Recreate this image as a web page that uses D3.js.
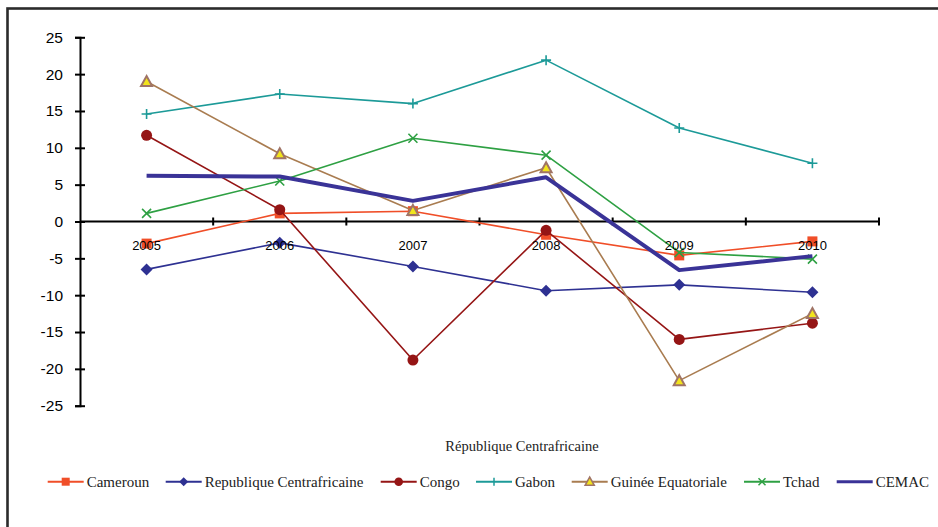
<!DOCTYPE html>
<html>
<head>
<meta charset="utf-8">
<script src="https://cdn.jsdelivr.net/npm/d3@7"></script>
<style>
  html, body { margin: 0; padding: 0; background: #fff; }
  svg { display: block; }
</style>
</head>
<body>
<svg id="chart" width="938" height="527"></svg>
<script>
// Years on the category axis
const years = ["2005", "2006", "2007", "2008", "2009", "2010"];

// Y axis tick values
const yTicks = [-25, -20, -15, -10, -5, 0, 5, 10, 15, 20, 25];

// Growth values per country, one per year
const cameroun = [-3.0, 1.1, 1.4, -1.8, -4.6, -2.7];
const rca = [-6.5, -2.9, -6.1, -9.4, -8.6, -9.6];
const congo = [11.7, 1.6, -18.8, -1.2, -16.0, -13.8];
const gabon = [14.6, 17.3, 16.0, 21.9, 12.7, 7.9];
const guinee = [19.0, 9.2, 1.5, 7.3, -21.6, -12.5];
const tchad = [1.1, 5.5, 11.3, 9.0, -4.2, -5.1];
const cemac = [6.2, 6.1, 2.8, 6.0, -6.6, -4.7];

const seriesNames = ["Cameroun", "Republique Centrafricaine", "Congo", "Gabon", "Guinée Equatoriale", "Tchad", "CEMAC"];
const seriesValues = [cameroun, rca, congo, gabon, guinee, tchad, cemac];

const axisTitle = "République Centrafricaine";

// Styling per series
const styles = [
  { color: "#f04e28", width: 1.6, marker: "square" },
  { color: "#2e3192", width: 1.6, marker: "diamond" },
  { color: "#951515", width: 1.6, marker: "circle" },
  { color: "#1c9a98", width: 1.6, marker: "plus" },
  { color: "#a97c50", width: 1.6, marker: "triangle" },
  { color: "#2ea043", width: 1.6, marker: "cross" },
  { color: "#3a3397", width: 4, marker: "none" }
];

const svg = d3.select("#chart");

// Outer frame
svg.append("rect")
  .attr("x", 7.5).attr("y", 8.5)
  .attr("width", 940).attr("height", 530)
  .attr("fill", "none")
  .attr("stroke", "#2b2b2b")
  .attr("stroke-width", 2.6);

const x = d3.scaleBand().domain(years).range([80, 879]).padding(0);
const y = d3.scaleLinear().domain([-25, 25]).range([405.7, 37.3]);

// Y axis (plain hyphen for negative labels)
const yAxis = svg.append("g")
  .attr("transform", "translate(80,0)")
  .call(d3.axisLeft(y).tickValues(yTicks).tickSize(5).tickPadding(12).tickFormat(d => String(d)));
yAxis.select(".domain").attr("stroke", "#000").attr("stroke-width", 2);
yAxis.selectAll(".tick line").attr("x1", -5).attr("x2", 5).attr("stroke", "#000").attr("stroke-width", 2);
yAxis.selectAll(".tick text")
  .attr("font-family", "'Liberation Sans', Arial, sans-serif")
  .attr("font-size", 15.5)
  .attr("fill", "#000");

// X axis line at zero with ticks on the band edges
const y0 = y(0);
svg.append("line")
  .attr("x1", x.range()[0]).attr("x2", x.range()[1])
  .attr("y1", y0).attr("y2", y0)
  .attr("stroke", "#000").attr("stroke-width", 2);
const edges = years.map(d => x(d)).concat([x.range()[1]]).slice(1);
svg.selectAll(".xtick").data(edges).enter().append("line")
  .attr("class", "xtick")
  .attr("x1", d => d).attr("x2", d => d)
  .attr("y1", y0 - 4).attr("y2", y0 + 4)
  .attr("stroke", "#000").attr("stroke-width", 2);

// Series lines and markers
const cx = d => x(d) + x.bandwidth() / 2;
const line = d3.line().x(d => cx(d.year)).y(d => y(d.value));

function drawMarker(g, type, color, px, py) {
  if (type === "square") {
    g.append("rect").attr("x", px - 5).attr("y", py - 5).attr("width", 10).attr("height", 10)
      .attr("fill", color);
  } else if (type === "diamond") {
    g.append("path").attr("d", `M${px},${py - 6}L${px + 6},${py}L${px},${py + 6}L${px - 6},${py}Z`)
      .attr("fill", color);
  } else if (type === "circle") {
    g.append("circle").attr("cx", px).attr("cy", py).attr("r", 5.5).attr("fill", color);
  } else if (type === "plus") {
    g.append("path").attr("d", `M${px - 5},${py}H${px + 5}M${px},${py - 5}V${py + 5}`)
      .attr("stroke", color).attr("stroke-width", 1.6).attr("fill", "none");
  } else if (type === "cross") {
    g.append("path").attr("d", `M${px - 4.5},${py - 4.5}L${px + 4.5},${py + 4.5}M${px - 4.5},${py + 4.5}L${px + 4.5},${py - 4.5}`)
      .attr("stroke", color).attr("stroke-width", 1.6).attr("fill", "none");
  } else if (type === "triangle") {
    g.append("path").attr("d", `M${px},${py - 5.5}L${px + 5.5},${py + 4.5}L${px - 5.5},${py + 4.5}Z`)
      .attr("fill", "#f2e41c").attr("stroke", "#a07466").attr("stroke-width", 2);
  }
}

const plot = svg.append("g");
seriesValues.forEach((vals, i) => {
  const pts = years.map((yr, j) => ({ year: yr, value: vals[j] }));
  const g = plot.append("g");
  g.append("path").datum(pts)
    .attr("d", line)
    .attr("fill", "none")
    .attr("stroke", styles[i].color)
    .attr("stroke-width", styles[i].width)
    .attr("stroke-linejoin", "round");
  pts.forEach(p => drawMarker(g, styles[i].marker, styles[i].color, cx(p.year), y(p.value)));
});

// Category labels below the zero line
const xAxis = svg.append("g")
  .attr("transform", `translate(0,${y0})`)
  .call(d3.axisBottom(x).tickSize(0).tickPadding(19));
xAxis.select(".domain").remove();
xAxis.selectAll(".tick text")
  .attr("font-family", "'Liberation Sans', Arial, sans-serif")
  .attr("font-size", 13)
  .attr("fill", "#000");

// Axis title
svg.append("text")
  .attr("x", 522).attr("y", 451)
  .attr("text-anchor", "middle")
  .attr("font-family", "'Liberation Serif', 'Times New Roman', serif")
  .attr("font-size", 14.5)
  .attr("fill", "#222")
  .text(axisTitle);

// Legend
const legendX = [47.7, 165.7, 380.7, 476, 571.7, 744, 836.7];
const legendY = 481.7;
seriesNames.forEach((name, i) => {
  const g = svg.append("g");
  const lx = legendX[i];
  g.append("line")
    .attr("x1", lx).attr("x2", lx + 36)
    .attr("y1", legendY).attr("y2", legendY)
    .attr("stroke", styles[i].color)
    .attr("stroke-width", i === 6 ? 3 : 2);
  const m = styles[i].marker;
  const mx = lx + 18;
  if (m === "square") {
    g.append("rect").attr("x", mx - 4).attr("y", legendY - 4).attr("width", 8).attr("height", 8).attr("fill", styles[i].color);
  } else if (m === "diamond") {
    g.append("path").attr("d", `M${mx},${legendY - 4.5}L${mx + 4.5},${legendY}L${mx},${legendY + 4.5}L${mx - 4.5},${legendY}Z`).attr("fill", styles[i].color);
  } else if (m === "circle") {
    g.append("circle").attr("cx", mx).attr("cy", legendY).attr("r", 4.3).attr("fill", styles[i].color);
  } else if (m === "plus") {
    g.append("path").attr("d", `M${mx},${legendY - 4}V${legendY + 4}`).attr("stroke", styles[i].color).attr("stroke-width", 1.5);
  } else if (m === "cross") {
    g.append("path").attr("d", `M${mx - 3.5},${legendY - 3.5}L${mx + 3.5},${legendY + 3.5}M${mx - 3.5},${legendY + 3.5}L${mx + 3.5},${legendY - 3.5}`).attr("stroke", styles[i].color).attr("stroke-width", 1.5);
  } else if (m === "triangle") {
    g.append("path").attr("d", `M${mx},${legendY - 4.5}L${mx + 4.5},${legendY + 3.5}L${mx - 4.5},${legendY + 3.5}Z`).attr("fill", "#f2e41c").attr("stroke", "#a07466").attr("stroke-width", 1.6);
  }
  g.append("text")
    .attr("x", lx + 39).attr("y", legendY + 5)
    .attr("font-family", "'Liberation Serif', 'Times New Roman', serif")
    .attr("font-size", 15)
    .attr("fill", "#222")
    .text(name);
});
</script>
</body>
</html>
